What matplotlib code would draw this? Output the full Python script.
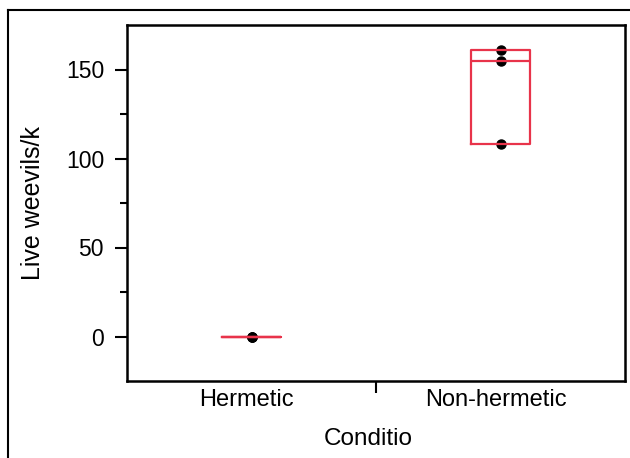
import matplotlib
matplotlib.use("Agg")
import matplotlib.pyplot as plt
import matplotlib.transforms as mtransforms
import numpy as np
from matplotlib.lines import Line2D

plt.rcParams['font.family'] = ['Liberation Sans', 'DejaVu Sans']

conditions = ['Hermetic', 'Non-hermetic']
hermetic = [0, 0, 0]
non_hermetic = [108, 155, 161]
groups = [hermetic, non_hermetic]

red = '#e8334a'

fig = plt.figure(figsize=(6.3, 4.58), dpi=100)
ax = fig.add_axes([127/630, 1-381/458, (625-127)/630, (381-25)/458])

# box = min..max, line at median
stats = []
for name, vals in zip(conditions, groups):
    v = np.array(vals, dtype=float)
    stats.append(dict(label=name, med=np.median(v), q1=v.min(), q3=v.max(),
                      whislo=v.min(), whishi=v.max(), fliers=[]))

pos = np.arange(1, len(groups) + 1)
ax.bxp(stats, positions=pos, widths=0.24, showfliers=False, showcaps=False,
       boxprops=dict(color=red, linewidth=1.6),
       medianprops=dict(color=red, linewidth=1.6),
       whiskerprops=dict(color=red, linewidth=1.6), zorder=3)

for p, vals in zip(pos, groups):
    ax.plot([p] * len(vals), vals, 'o', color='black', markersize=6.5, zorder=2)

ax.set_xlim(0.5, 2.5)
ax.set_ylim(-25, 175)
ax.set_yticks([0, 50, 100, 150])
ax.set_yticks([25, 75, 125], minor=True)
ax.set_xticks([1.5])
ax.set_xticklabels([''])
ax.set_xticks(pos, minor=True)
ax.set_xticklabels(conditions, minor=True)
ax.tick_params(axis='x', which='minor', length=0, labelsize=17, pad=6)
ax.tick_params(axis='x', which='major', length=8.5, width=1.5)
ax.tick_params(axis='y', which='major', length=8.5, width=1.5, labelsize=16.5, pad=8)
ax.tick_params(axis='y', which='minor', length=5, width=1.5)

# category labels sit a little left of the box centres
shift = mtransforms.ScaledTranslation(-5/100, 0, fig.dpi_scale_trans)
for lbl in ax.get_xticklabels(minor=True):
    lbl.set_transform(lbl.get_transform() + shift)

for s in ax.spines.values():
    s.set_linewidth(1.8)

ax.set_ylabel('Live weevils/k', fontsize=18, labelpad=15)
ax.set_xlabel('Conditio', fontsize=17.5)
ax.xaxis.set_label_coords((368 - 127) / (625 - 127), -0.133)

# outer frame of the cropped figure
fig.add_artist(Line2D([8/630, 8/630], [0, 1-10/458], transform=fig.transFigure,
                      color='black', linewidth=1.5))
fig.add_artist(Line2D([8/630, 1], [1-10/458, 1-10/458], transform=fig.transFigure,
                      color='black', linewidth=1.5))

fig.savefig('out.png', dpi=100)
